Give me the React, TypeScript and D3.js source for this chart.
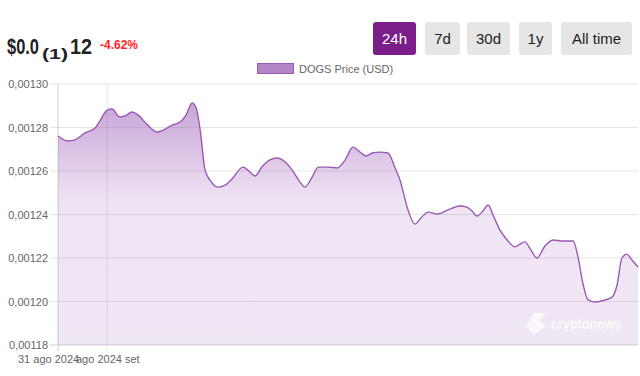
import React from "react";
import * as d3 from "d3";

// minutes since start of the 24h window (start ≈ 31 ago 2024 21:58)
const minutes = [0,25,42,67,92,104,122,134,154,166,184,199,223,246,261,283,303,318,333,343,353,365,377,397,415,434,459,477,489,506,526,544,564,581,601,613,631,646,670,693,713,732,750,765,780,799,819,837,849,869,886,901,919,943,968,998,1015,1028,1040,1055,1068,1080,1097,1115,1135,1147,1159,1174,1189,1209,1229,1254,1279,1291,1303,1316,1333,1358,1376,1388,1400,1412,1425,1440];
const prices = [0.0012761,0.0012738,0.0012743,0.0012775,0.0012798,0.0012830,0.0012880,0.0012885,0.0012848,0.0012853,0.0012871,0.0012857,0.0012811,0.0012779,0.0012788,0.0012811,0.0012825,0.0012857,0.0012913,0.0012890,0.0012789,0.0012605,0.0012559,0.0012526,0.0012535,0.0012568,0.0012618,0.0012595,0.0012577,0.0012618,0.0012651,0.0012660,0.0012641,0.0012605,0.0012549,0.0012526,0.0012572,0.0012618,0.0012618,0.0012614,0.0012651,0.0012710,0.0012687,0.0012669,0.0012683,0.0012687,0.0012683,0.0012614,0.0012559,0.0012421,0.0012356,0.0012384,0.0012411,0.0012402,0.0012421,0.0012439,0.0012434,0.0012416,0.0012393,0.0012416,0.0012444,0.0012398,0.0012329,0.0012283,0.0012251,0.0012264,0.0012274,0.0012237,0.0012200,0.0012255,0.0012283,0.0012278,0.0012278,0.0012205,0.0012085,0.0012007,0.0011998,0.0012007,0.0012021,0.0012076,0.0012200,0.0012218,0.0012191,0.0012159];
const yTicks = [0.0013, 0.00128, 0.00126, 0.00124, 0.00122, 0.0012, 0.00118];
const xTickMinutes = [0, 122];
const xTickLabels = ["31 ago 2024", "ago 2024 set"];
const buttons = ["24h", "7d", "30d", "1y", "All time"];
const seriesName = "DOGS Price (USD)";

export default function App() {
  const W = 640, H = 376;
  const left = 58, right = 638, top = 84, bottom = 345;
  const x = d3.scaleLinear().domain([0, 1440]).range([left, right]);
  const y = d3.scaleLinear().domain([0.00118, 0.0013]).range([bottom, top]);
  const pts = minutes.map((m, i) => [m, prices[i]] as [number, number]);
  const line = d3.line<[number, number]>().x(d => x(d[0])).y(d => y(d[1])).curve(d3.curveMonotoneX);
  const area = d3.area<[number, number]>().x(d => x(d[0])).y0(bottom).y1(d => y(d[1])).curve(d3.curveMonotoneX);
  const fmt = (v: number) => d3.format(".5f")(v).replace(".", ",");

  const btnX = [373, 425, 467, 519, 561];
  const btnW = [43, 35, 43, 33, 71];
  const font = "'Liberation Sans', Arial, Helvetica, sans-serif";

  return (
    <svg width={W} height={H} style={{ position: "absolute", left: 0, top: 0, fontFamily: font }}>
      <defs>
        <linearGradient id="g" gradientUnits="userSpaceOnUse" x1="0" y1={top} x2="0" y2={bottom}>
          <stop offset="0" stopColor="#9b59b6" stopOpacity={0.62} />
          <stop offset="0.45" stopColor="#9b59b6" stopOpacity={0.16} />
          <stop offset="1" stopColor="#9b59b6" stopOpacity={0.15} />
        </linearGradient>
      </defs>
      <rect width={W} height={H} fill="#fff" />

      {/* header */}
      <text x={7} y={54} fontSize={22} fontWeight="bold" fill="#222" textLength={32} lengthAdjust="spacingAndGlyphs">$0.0</text>
      <text x={42} y={59} fontSize={15} fontWeight="bold" fill="#222" textLength={26} lengthAdjust="spacingAndGlyphs">(1)</text>
      <text x={70} y={54} fontSize={22} fontWeight="bold" fill="#222" textLength={22} lengthAdjust="spacingAndGlyphs">12</text>
      <text x={100} y={49} fontSize={13} fontWeight="bold" fill="#ff1f1f" textLength={38} lengthAdjust="spacingAndGlyphs">-4.62%</text>

      {buttons.map((b, i) => (
        <g key={b}>
          <rect x={btnX[i]} y={22} width={btnW[i]} height={33} rx={3} fill={i === 0 ? "#7b1e8a" : "#e6e6e6"} />
          <text x={btnX[i] + btnW[i] / 2} y={44} fontSize={15} textAnchor="middle" fill={i === 0 ? "#fff" : "#222"}>{b}</text>
        </g>
      ))}

      {/* legend */}
      <rect x={257.5} y={63.5} width={36} height={10} fill="#b485c6" stroke="#9b59b6" strokeWidth={1} />
      <text x={299} y={73} fontSize={11} fill="#666">{seriesName}</text>

      {/* grid */}
      {yTicks.map(t => (
        <g key={t}>
          <line x1={50} x2={right} y1={y(t)} y2={y(t)} stroke={t === 0.00118 ? "#d0d0d0" : "#e5e5e5"} strokeWidth={1} />
          <text x={48} y={y(t) + 4} fontSize={11} textAnchor="end" fill="#666">{fmt(t)}</text>
        </g>
      ))}
      {xTickMinutes.map((m, i) => (
        <g key={m}>
          <line x1={x(m)} x2={x(m)} y1={top} y2={bottom + 6} stroke={i === 0 ? "#d0d0d0" : "#e5e5e5"} strokeWidth={1} />
        </g>
      ))}
      <text x={18} y={363} fontSize={11} fill="#666">{xTickLabels[0]}</text>
      <text x={76} y={363} fontSize={11} fill="#666">{xTickLabels[1]}</text>

      {/* area + line */}
      <path d={area(pts) || ""} fill="url(#g)" />
      <path d={line(pts) || ""} fill="none" stroke="#9b59b6" strokeWidth={1.4} />

      {/* watermark */}
      <g opacity={0.75} fill="#fff">
        <path d="M534 313 L546 313 L540 320 L546 326 L534 335 L526 327 Z" />
        <text x={551} y={329} fontSize={14} fontWeight="bold" textLength={70} lengthAdjust="spacingAndGlyphs">cryptonews</text>
      </g>
    </svg>
  );
}
